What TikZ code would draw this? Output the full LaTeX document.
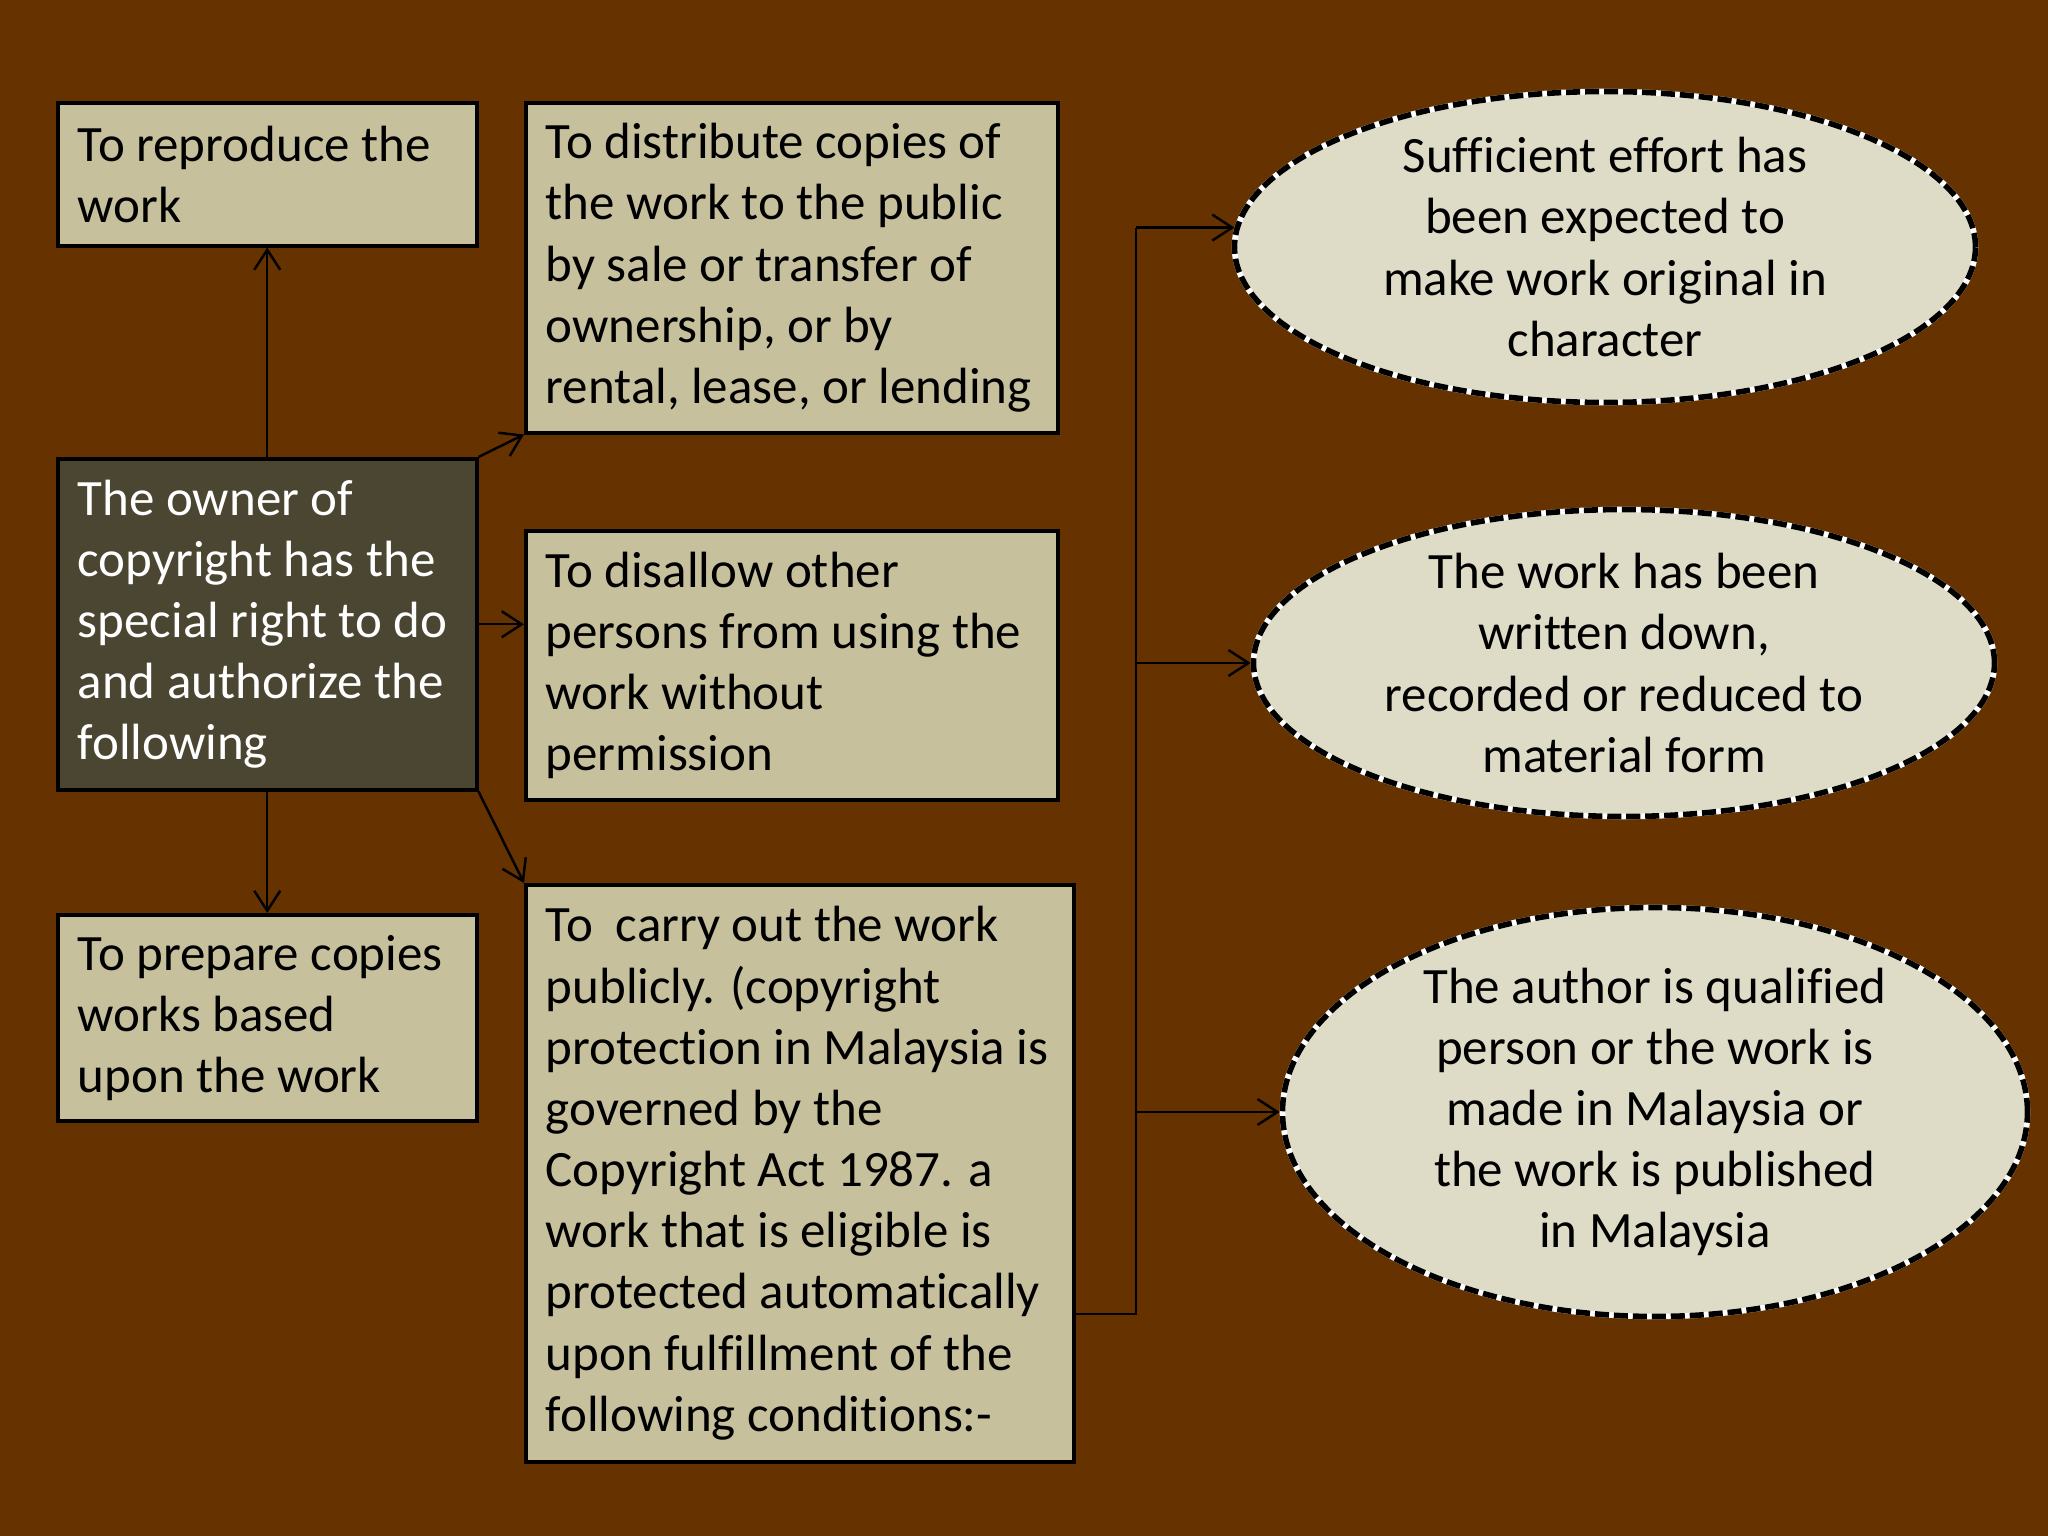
\documentclass[tikz,border=0pt]{standalone}
\usepackage{fontspec}
\setmainfont{Carlito}[Ligatures=NoCommon]
\usetikzlibrary{shapes.geometric,arrows.meta}
\definecolor{slidebg}{HTML}{663300}
\definecolor{boxfill}{HTML}{C7C09D}
\definecolor{ownerfill}{HTML}{4A4632}
\definecolor{ovalfill}{HTML}{DEDCC7}
\begin{document}
\begin{tikzpicture}[
	item/.style={draw=black, line width=1pt, fill=boxfill, anchor=north west, align=flush left,
		inner xsep=0.2cm, inner ysep=0.08cm, font=\fontsize{14.5}{17.4}\selectfont},
	owner/.style={item, fill=ownerfill, text=white},
	cond/.style={ellipse, fill=ovalfill, draw=white, line width=1.6pt, inner sep=0pt,
		postaction={draw=black, line width=1.6pt, dash pattern=on 4pt off 1.4pt}},
	condtext/.style={align=center, font=\fontsize{14.5}{17.4}\selectfont},
	arr/.style={-{Straight Barb[length=2mm,width=2.6mm]}, line width=0.7pt}
]
	\fill [slidebg] (0,0) rectangle (20.48,-15.36);
	\useasboundingbox (0,0) rectangle (20.48,-15.36);

	% left column
	\node [item, text width=3.79cm, minimum height=1.43cm] (reproduce) at (0.56,-1.01) {To reproduce the\\ work};
	\node [owner, text width=3.79cm, minimum height=3.31cm] (copyowner) at (0.56,-4.57) {The owner of\\ copyright has the\\ special right to do\\ and authorize the\\ following};
	\node [item, text width=3.79cm, minimum height=2.06cm] (prepare) at (0.56,-9.13) {To prepare copies\\ works based\\ upon the work};

	% middle column
	\node [item, text width=4.92cm, minimum height=3.30cm] (distribute) at (5.24,-1.01) {To distribute copies of\\ the work to the public\\ by sale or transfer of\\ ownership, or by\\ rental, lease, or lending};
	\node [item, text width=4.92cm, minimum height=2.69cm] (disallow) at (5.24,-5.29) {To disallow other\\ persons from using the\\ work without\\ permission};
	\node [item, text width=5.08cm, minimum height=5.77cm] (carry) at (5.24,-8.83) {To\ \ carry out the work\\ publicly. (copyright\\ protection in Malaysia is\\ governed by the\\ Copyright Act 1987. a\\ work that is eligible is\\ protected automatically\\ upon fulfillment of the\\ following conditions:-};

	% conditions
	\node [cond, minimum width=7.41cm, minimum height=3.11cm] (cond1) at (16.05,-2.47) {};
	\node [condtext] (cond1text) at (cond1) {Sufficient effort has\\ been expected to\\ make work original in\\ character};
	\node [cond, minimum width=7.41cm, minimum height=3.07cm] (cond2) at (16.24,-6.63) {};
	\node [condtext] (cond2text) at (cond2) {The work has been\\ written down,\\ recorded or reduced to\\ material form};
	\node [cond, minimum width=7.45cm, minimum height=4.09cm] (cond3) at (16.55,-11.12) {};
	\node [condtext] (cond3text) at (cond3) {The author is qualified\\ person or the work is\\ made in Malaysia or\\ the work is published\\ in Malaysia};

	% arrows from the owner
	\draw [arr] (copyowner.north) -- (reproduce.south);
	\draw [arr] (copyowner.south) -- (prepare.north);
	\draw [arr] (copyowner.east) -- (disallow.west |- copyowner.east);
	\draw [arr] (copyowner.north east) -- (distribute.south west);
	\draw [arr] (copyowner.south east) -- (carry.north west);

	% trunk to the conditions
	\coordinate (trunk) at (11.36,-13.14);
	\draw [line width=0.7pt] (carry.east |- trunk) -- (trunk) -- (trunk |- cond1.177);
	\draw [arr] (trunk |- cond1.177) -- (cond1.177);
	\draw [arr] (trunk |- cond2.west) -- (cond2.west);
	\draw [arr] (trunk |- cond3.west) -- (cond3.west);
\end{tikzpicture}
\end{document}
